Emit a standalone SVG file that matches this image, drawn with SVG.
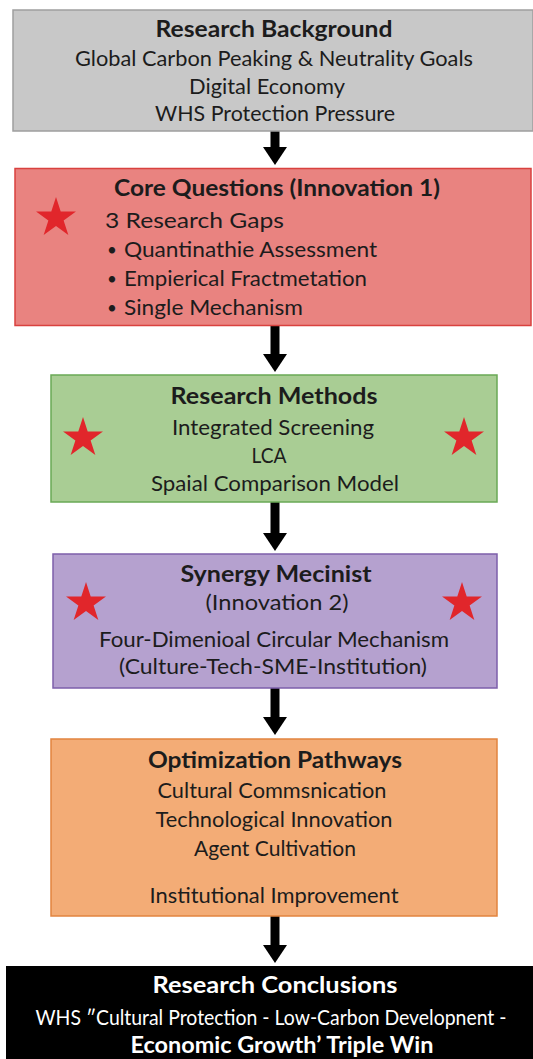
<svg xmlns="http://www.w3.org/2000/svg" width="533" height="1059" viewBox="0 0 533 1059">
  <style>
    text { font-family: Lato, "Open Sans", "Liberation Sans", sans-serif; font-size: 21.5px; fill: #1c1c1c; }
    .c { text-anchor: middle; }
    .b { font-weight: bold; font-size: 22.5px; }
    .w { fill: #ffffff; }
    .dot { font-size: 17px; }
    .star { fill: #e1262b; }
    .arrow { stroke: #000000; stroke-width: 9; fill: none; marker-end: url(#head); }
  </style>
  <defs>
    <marker id="head" viewBox="0 0 18 24" refX="0" refY="12" markerWidth="18" markerHeight="24" markerUnits="userSpaceOnUse" orient="auto">
      <path d="M0,0 L18,12 L0,24 Z" fill="#000000"/>
    </marker>
    <path id="star" d="M0,-21 L4.71,-6.49 L19.97,-6.49 L7.63,2.48 L12.34,16.99 L0,8.02 L-12.34,16.99 L-7.63,2.48 L-19.97,-6.49 L-4.71,-6.49 Z"/>
  </defs>
  <rect width="533" height="1059" fill="#ffffff"/>

  <!-- connectors -->
  <g id="connectors">
    <line class="arrow" x1="275" y1="131" x2="275" y2="147"/>
    <line class="arrow" x1="275" y1="326" x2="275" y2="354"/>
    <line class="arrow" x1="275" y1="502" x2="275" y2="533"/>
    <line class="arrow" x1="275" y1="688" x2="275" y2="717"/>
    <line class="arrow" x1="275" y1="916" x2="275" y2="945"/>
  </g>

  <g id="background">
    <rect x="13" y="10" width="520" height="121" fill="#c8c8c8" stroke="#9e9e9e" stroke-width="1.5"/>
    <text class="c b" x="274" y="37" textLength="237" lengthAdjust="spacingAndGlyphs">Research Background</text>
    <text class="c" x="274" y="66" textLength="398" lengthAdjust="spacingAndGlyphs">Global Carbon Peaking &amp; Neutrality Goals</text>
    <text class="c" x="267" y="94" textLength="156" lengthAdjust="spacingAndGlyphs">Digital Economy</text>
    <text class="c" x="275" y="121" textLength="240" lengthAdjust="spacingAndGlyphs">WHS Protection Pressure</text>
  </g>

  <g id="core-questions">
    <rect x="15" y="168.5" width="516" height="157" fill="#e98380" stroke="#d9413f" stroke-width="1.5"/>
    <use href="#star" class="star" transform="translate(56,218)"/>
    <text class="b" x="114" y="196" textLength="326" lengthAdjust="spacingAndGlyphs">Core Questions (Innovation 1)</text>
    <text x="105" y="228" font-size="23" textLength="179" lengthAdjust="spacingAndGlyphs">3 Research Gaps</text>
    <text class="dot" x="107" y="256">•</text>
    <text x="124" y="257" textLength="253" lengthAdjust="spacingAndGlyphs">Quantinathie Assessment</text>
    <text class="dot" x="107" y="285">•</text>
    <text x="124" y="286" textLength="243" lengthAdjust="spacingAndGlyphs">Empierical Fractmetation</text>
    <text class="dot" x="107" y="314">•</text>
    <text x="124" y="315" textLength="179" lengthAdjust="spacingAndGlyphs">Single Mechanism</text>
  </g>

  <g id="methods">
    <rect x="51" y="375" width="446" height="127" fill="#a9cd94" stroke="#6aa956" stroke-width="1.5"/>
    <use href="#star" class="star" transform="translate(83,438)"/>
    <use href="#star" class="star" transform="translate(464,438)"/>
    <text class="c b" x="274" y="404" textLength="207" lengthAdjust="spacingAndGlyphs">Research Methods</text>
    <text class="c" x="273" y="435" textLength="202" lengthAdjust="spacingAndGlyphs">Integrated Screening</text>
    <text class="c" x="269" y="463" textLength="35" lengthAdjust="spacingAndGlyphs">LCA</text>
    <text class="c" x="275" y="491" textLength="248" lengthAdjust="spacingAndGlyphs">Spaial Comparison Model</text>
  </g>

  <g id="synergy">
    <rect x="53" y="554" width="444" height="134" fill="#b5a1cf" stroke="#7d5fab" stroke-width="1.5"/>
    <use href="#star" class="star" transform="translate(86,603)"/>
    <use href="#star" class="star" transform="translate(462,603)"/>
    <text class="c b" x="276" y="582" textLength="191" lengthAdjust="spacingAndGlyphs">Synergy Mecinist</text>
    <text class="c" x="277" y="610" textLength="143" lengthAdjust="spacingAndGlyphs">(Innovation 2)</text>
    <text class="c" x="274" y="647" textLength="350" lengthAdjust="spacingAndGlyphs">Four-Dimenioal Circular Mechanism</text>
    <text class="c" x="273" y="674" textLength="308" lengthAdjust="spacingAndGlyphs">(Culture-Tech-SME-Institution)</text>
  </g>

  <g id="pathways">
    <rect x="51" y="739" width="446" height="177" fill="#f3ac76" stroke="#e2843f" stroke-width="1.5"/>
    <text class="c b" x="275" y="768" textLength="254" lengthAdjust="spacingAndGlyphs">Optimization Pathways</text>
    <text class="c" x="272" y="798" textLength="229" lengthAdjust="spacingAndGlyphs">Cultural Commsnication</text>
    <text class="c" x="274" y="827" textLength="237" lengthAdjust="spacingAndGlyphs">Technological Innovation</text>
    <text class="c" x="275" y="856" textLength="162" lengthAdjust="spacingAndGlyphs">Agent Cultivation</text>
    <text class="c" x="274" y="903" textLength="249" lengthAdjust="spacingAndGlyphs">Institutional Improvement</text>
  </g>

  <g id="conclusions">
    <rect x="6" y="966" width="527" height="93" fill="#000000"/>
    <text class="c b w" x="275" y="993" font-size="23.5" textLength="245" lengthAdjust="spacingAndGlyphs">Research Conclusions</text>
    <text class="c w" x="271" y="1025" font-size="18.5" textLength="471" lengthAdjust="spacingAndGlyphs">WHS ″Cultural Protection - Low-Carbon Developnent -</text>
    <text class="c b w" x="282" y="1053" textLength="303" lengthAdjust="spacingAndGlyphs">Economic Growth’ Triple Win</text>
  </g>
</svg>
